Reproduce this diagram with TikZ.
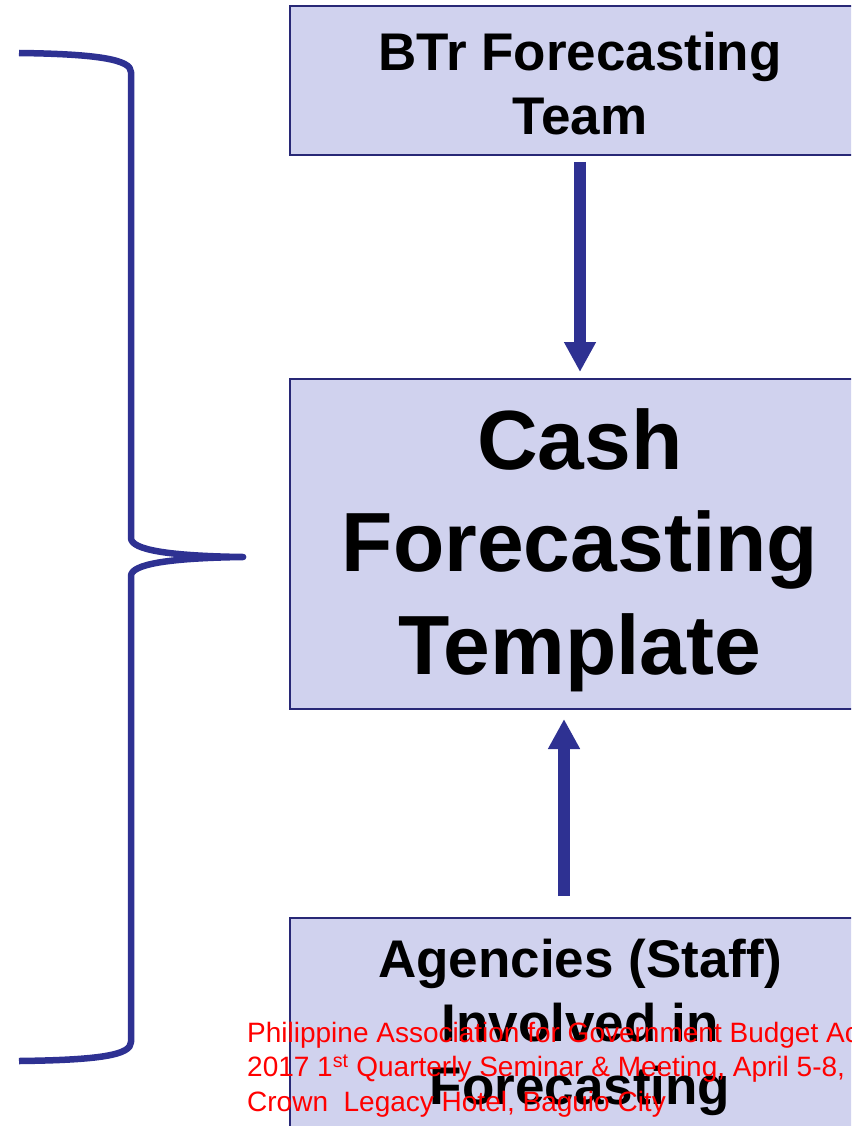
\documentclass[tikz,border=0pt]{standalone}
\usepackage{fontspec}
\setmainfont{Liberation Sans}
\usetikzlibrary{arrows.meta}
\definecolor{boxfill}{RGB}{208,210,238}
\definecolor{boxline}{RGB}{40,40,118}
\definecolor{navy}{RGB}{46,49,146}
\definecolor{pagred}{RGB}{255,0,0}
\tikzset{
  box/.style={draw=boxline, line width=2pt, fill=boxfill, rectangle, inner sep=0pt, anchor=north west, minimum width=582pt},
  midtxt/.style={font=\fontsize{53}{63.5}\selectfont\bfseries, align=center, inner sep=0pt, anchor=north, text=black},
  hugetxt/.style={font=\fontsize{84}{102.5}\selectfont\bfseries, align=center, inner sep=0pt, anchor=north, text=black},
  redtxt/.style={font=\fontsize{28}{34.5}\selectfont, align=left, inner sep=0pt, anchor=north west, text=pagred},
  flowarrow/.style={draw=navy, line width=12pt, -{Triangle[width=30pt,length=30pt]}},
  bracepath/.style={draw=navy, line width=6.5pt, line join=round}
}
\begin{document}
\begin{tikzpicture}[x=1pt,y=-1pt]
\useasboundingbox (0,0) rectangle (851,1126);
\clip (0,0) rectangle (851,1126);
% boxes
\node[box, minimum height=149pt] (btr) at (289,5) {};
\node[box, minimum height=330pt] (cft) at (289,378) {};
\node[box, minimum height=260pt] (agn) at (289,917) {};
% texts
\node[midtxt] (btrtxt) at (580,32) {BTr Forecasting\\Team};
\node[hugetxt] (cfttxt) at (580,408) {Cash\\Forecasting\\Template};
\node[midtxt] (agntxt) at (580,939) {Agencies (Staff)\\Involved in\\Forecasting};
% arrows
\draw[flowarrow] ([xshift=-1pt,yshift=-6pt]btr.south) -- ([xshift=-1pt,yshift=6pt]cft.north);
\draw[flowarrow] ([xshift=-17pt,yshift=21pt]agn.north) -- ([xshift=-17pt,yshift=-9pt]cft.south);
% brace
\coordinate (bracetip) at (243,557);
\draw[bracepath] (19,53) .. controls (100,54) and (131,60) .. (131,72) -- (131,538)
  .. controls (131,550) and (170,556) .. (bracetip)
  .. controls (170,558) and (131,564) .. (131,576) -- (131,1042)
  .. controls (131,1055) and (100,1060) .. (19,1061);
\draw[navy, line cap=round, line width=6.5pt] (bracetip) -- ++(-4,0);
% footer
\node[redtxt] (footer) at (247,1021.5) {Philippine Association for Government Budget Ac\\2017 1\textsuperscript{st} Quarterly Seminar \& Meeting, April 5-8,\\Crown\ \ Legacy Hotel, Baguio City};
\end{tikzpicture}
\end{document}
